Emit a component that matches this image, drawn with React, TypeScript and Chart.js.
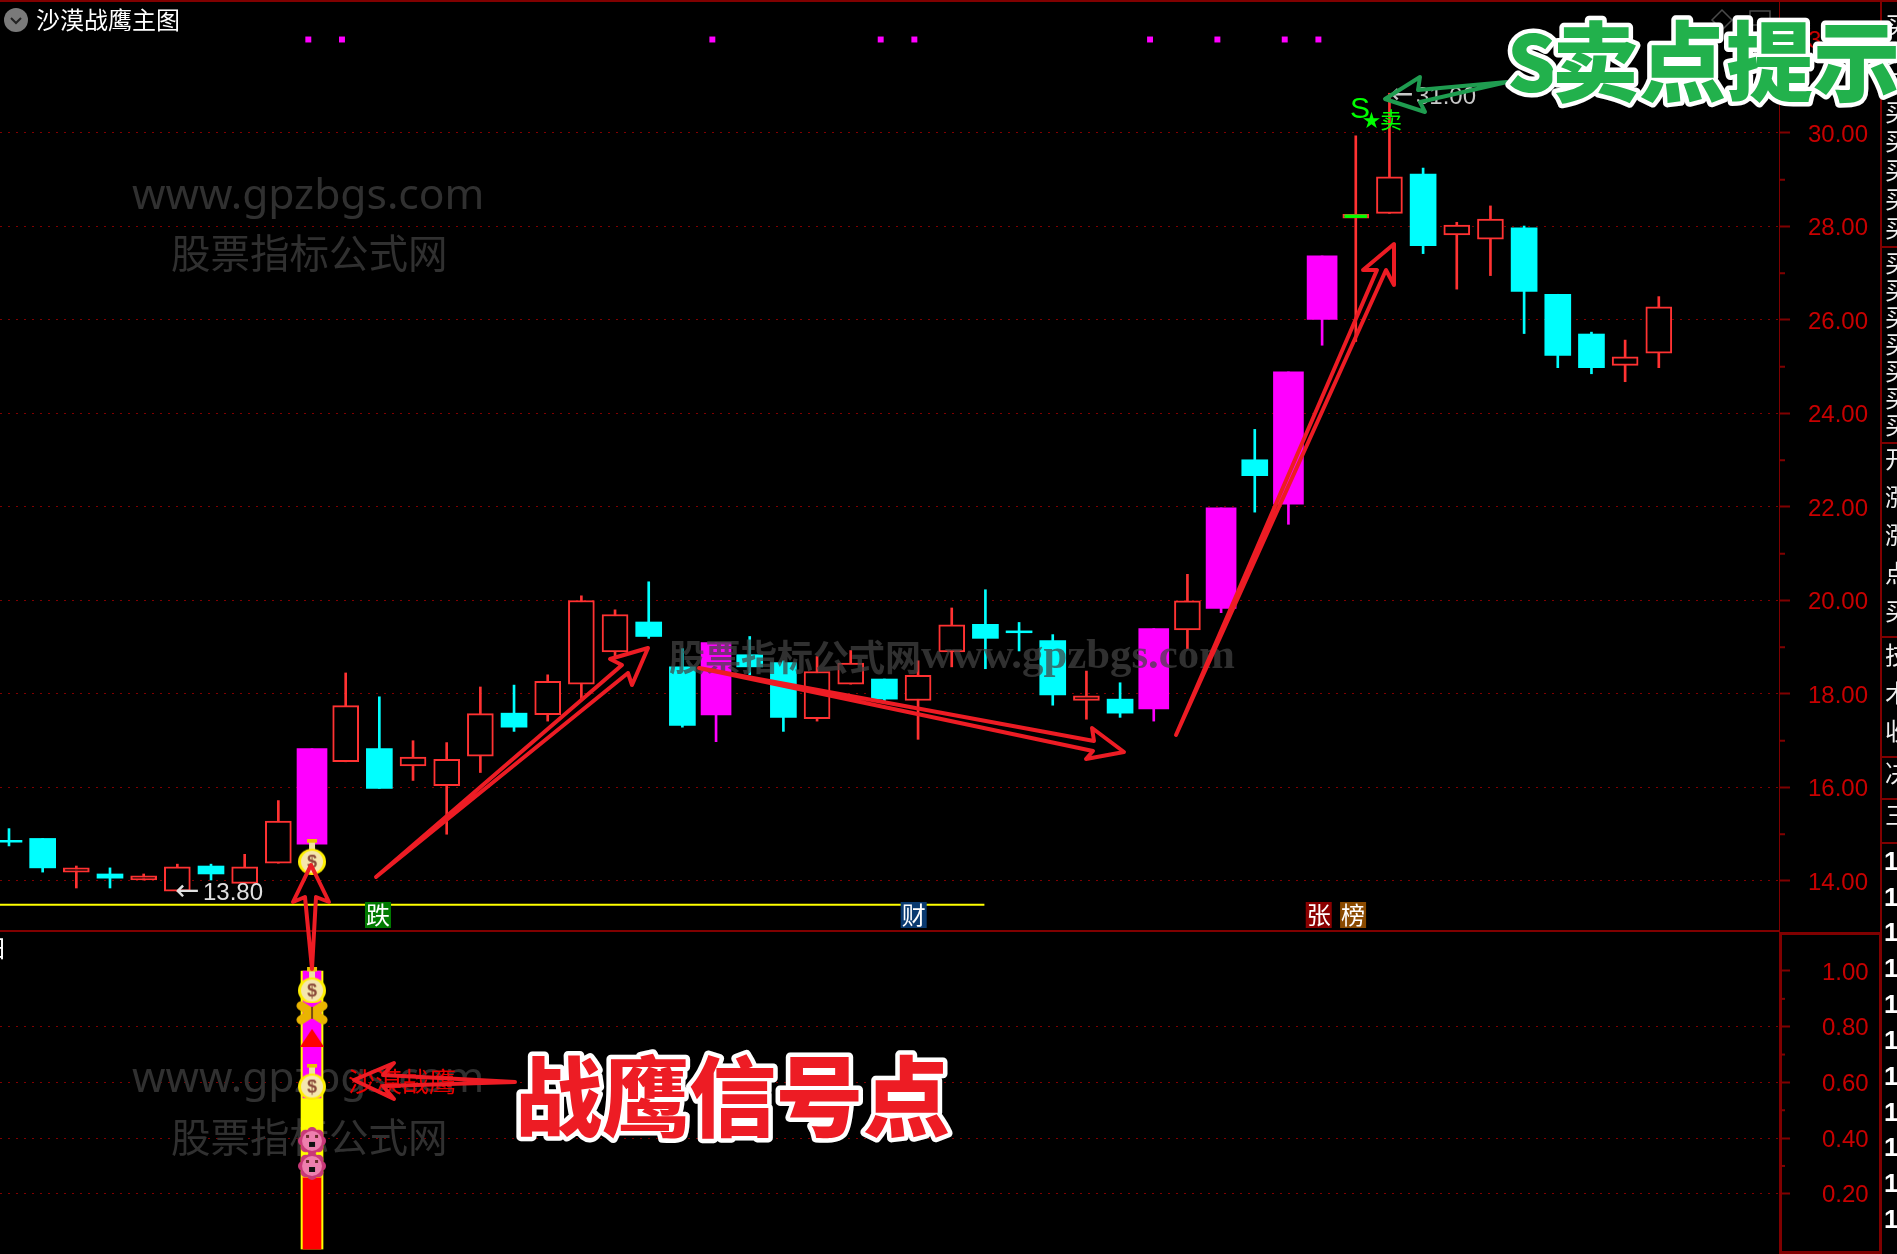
import React, { useEffect, useRef } from "react";
import { Chart, registerables } from "chart.js";

Chart.register(...registerables);

// ---------- data ----------
const candleKind = ["c","c","r","c","r","r","c","r","r","m","r","c","r","r","r","c","r","r","r","c","c","m","c","c","r","r","c","r","r","c","c","c","r","c","m","r","m","c","m","m","r","r","c","r","r","c","c","c","r","r"];
const bodyTop = [14.87,14.91,14.28,14.15,14.11,14.30,14.32,14.30,15.28,16.83,17.75,16.83,16.65,16.60,17.58,17.59,18.27,20.00,19.70,19.54,18.58,19.10,18.84,18.67,18.48,18.66,18.32,18.40,19.48,19.49,19.35,19.14,17.96,17.89,19.40,19.99,21.98,23.01,24.89,27.37,28.26,29.06,29.12,28.03,28.16,27.97,26.55,25.70,25.21,26.28];
const bodyBottom = [14.83,14.28,14.19,14.06,14.02,13.78,14.15,13.95,14.38,14.79,16.55,15.98,16.46,16.04,16.67,17.29,17.56,18.21,18.90,19.23,17.33,17.55,18.58,17.50,17.47,18.21,17.89,17.86,18.90,19.19,19.31,17.98,17.86,17.59,17.68,19.37,19.83,22.67,22.06,26.01,28.18,28.28,27.59,27.82,27.73,26.61,25.24,24.98,25.03,25.29];
const wickHigh = [15.12,14.91,14.32,14.28,14.15,14.36,14.36,14.57,15.72,16.83,18.45,17.94,17.00,16.96,18.15,18.19,18.41,20.10,19.80,20.40,18.97,19.10,19.23,18.71,18.80,18.93,18.32,18.71,19.84,20.23,19.53,19.27,18.49,18.24,19.40,20.56,21.98,23.66,24.89,27.37,29.94,30.85,29.25,28.09,28.44,28.01,26.55,25.74,25.57,26.50];
const wickLow = [14.75,14.19,13.85,13.85,14.02,13.78,14.02,13.95,14.38,14.79,16.55,15.98,16.15,15.00,16.32,17.20,17.42,17.88,18.77,19.19,17.29,16.98,18.41,17.20,17.42,18.21,17.85,17.03,18.58,18.54,18.92,17.76,17.46,17.50,17.42,18.97,19.74,21.89,21.63,25.46,25.54,28.28,27.42,26.66,26.95,25.71,24.98,24.85,24.68,24.98];
const greenDojiIndex = [40];
const greenDojiTop = [28.25];
const greenDojiBottom = [28.19];
const topDotIndex = [8.89,9.89,20.89,25.89,26.89,33.89,35.89,37.89,38.89];
const topDotPrice = 32;
const supportLineIndex = [-0.27, 28.97];
const supportLinePrice = 13.49;
const priceTicks = [14,16,18,20,22,24,26,28,30,32];
const priceMinorTicks = [15,17,19,21,23,25,27,29,31];
const signalTicks = [0.2,0.4,0.6,0.8,1.0];
const signalMinorTicks = [0.3,0.5,0.7,0.9];
const signalBarIndex = [9];
const signalFrame = [[0,1]];
const signalMagenta = [[0.544,1]];
const signalYellow = [[0.26,0.544]];
const signalRed = [[0,0.26]];
const bagPrice = [14.52];
const bagSignal = [0.948,0.603];
const butterflySignal = [0.85];
const triangleSignal = [0.76];
const flowerSignal = [0.39,0.30];
const stripBlocks = [
  { chars: "买买买买买买买买", top: 12, step: 29 },
  { chars: "买买买买买买买", top: 250, step: 27 },
  { chars: "开涨涨点买", top: 446, step: 38 },
  { chars: "技术收", top: 642, step: 38 },
  { chars: "决", top: 760, step: 36 },
  { chars: "三", top: 802, step: 36 },
];
const stripOnes = [863,899,934,970,1006,1042,1078,1114,1149,1185,1221];
const stripSeparators = [246,442,636,756,798,842];

// ---------- palette ----------
const RED = "#ff3232", CYAN = "#00ffff", MAGENTA = "#ff00ff", AXIS = "#800000", LABEL = "#c80000";
const CJK = '"Noto Sans CJK SC"';

type P = [number, number];
const redArrows: P[][] = [
  [[376,877],[622,665],[610,659],[648,648],[632,685],[628,673]],
  [[699,668],[1094,741],[1092,728],[1124,752],[1086,759],[1093,751]],
  [[1176,735],[1377,270],[1363,270],[1394,244],[1394,285],[1386,270]],
  [[312,969],[305,897],[293,902],[311,865],[329,902],[316,897]],
  [[515,1082],[383,1075],[394,1063],[354,1080],[394,1099],[383,1086]],
];
const greenArrow: P[] = [[1507,82],[1418,90],[1420,77],[1385,99],[1425,112],[1420,102]];

function outline(ctx: CanvasRenderingContext2D, pts: P[], color: string) {
  ctx.save();
  ctx.beginPath();
  pts.forEach((p, i) => (i ? ctx.lineTo(p[0], p[1]) : ctx.moveTo(p[0], p[1])));
  ctx.closePath();
  ctx.strokeStyle = color;
  ctx.lineWidth = 4;
  ctx.lineJoin = "round";
  ctx.stroke();
  ctx.restore();
}

function icon(w: number, h: number, draw: (c: CanvasRenderingContext2D) => void) {
  const cv = document.createElement("canvas");
  cv.width = w; cv.height = h;
  draw(cv.getContext("2d") as CanvasRenderingContext2D);
  return cv;
}
const makeBag = () => icon(28, 36, (c) => {
  c.fillStyle = "#e8c400"; c.fillRect(9, 0, 10, 4);
  c.fillStyle = "#f0e0a0"; c.fillRect(11, 4, 6, 7);
  c.fillStyle = "#fff000"; c.beginPath(); c.ellipse(14, 23, 14, 13, 0, 0, 7); c.fill();
  c.fillStyle = "#f5e6ae"; c.beginPath(); c.ellipse(14, 23, 11, 11, 0, 0, 7); c.fill();
  c.fillStyle = "#8a4a3a"; c.font = "bold 18px Liberation Sans"; c.textAlign = "center"; c.textBaseline = "middle"; c.fillText("$", 14, 24);
});
const makeButterfly = () => icon(32, 24, (c) => {
  c.strokeStyle = "#eab400"; c.lineWidth = 9; c.lineCap = "round";
  c.beginPath(); c.moveTo(5, 5); c.lineTo(27, 19); c.moveTo(27, 5); c.lineTo(5, 19); c.stroke();
  c.fillStyle = "#7a4a10"; c.fillRect(15, 6, 2, 12);
});
const makeTriangle = () => icon(24, 18, (c) => {
  c.fillStyle = "#ff0000";
  c.beginPath(); c.moveTo(12, 0); c.lineTo(24, 18); c.lineTo(0, 18); c.closePath(); c.fill();
});
const makeFlower = () => icon(28, 28, (c) => {
  c.fillStyle = "#c93878";
  for (let a = 0; a < 8; a++) { c.beginPath(); c.arc(14 + 9 * Math.cos(a * Math.PI / 4), 14 + 9 * Math.sin(a * Math.PI / 4), 5, 0, 7); c.fill(); }
  c.fillStyle = "#ee7fae"; c.beginPath(); c.arc(14, 14, 10, 0, 7); c.fill();
  c.fillStyle = "#111"; c.fillRect(11, 15, 6, 5);
  c.fillStyle = "#6a2a2a"; c.fillRect(8, 8, 3, 3); c.fillRect(17, 8, 3, 3);
});

function text(ctx: CanvasRenderingContext2D, s: string, x: number, y: number, font: string, color: string, align: CanvasTextAlign = "left") {
  ctx.font = font; ctx.fillStyle = color; ctx.textAlign = align; ctx.textBaseline = "middle";
  ctx.fillText(s, x, y);
}
function banner(ctx: CanvasRenderingContext2D, s: string, x: number, y: number, size: number, fill: string) {
  ctx.font = `900 ${size}px ${CJK}`;
  ctx.textAlign = "left"; ctx.textBaseline = "middle"; ctx.lineJoin = "round";
  ctx.strokeStyle = "#ffffff"; ctx.lineWidth = 9;
  ctx.strokeText(s, x, y);
  ctx.fillStyle = fill;
  ctx.fillText(s, x, y);
}

const backdrop = {
  id: "backdrop",
  beforeDatasetsDraw(chart: any) {
    const c = chart.ctx as CanvasRenderingContext2D;
    const wm = "#303030";
    text(c, "www.gpzbgs.com", 132, 197, '42.6px "Noto Sans"', wm);
    text(c, "股票指标公式网", 171, 253, `39.5px ${CJK}`, wm);
    text(c, "www.gpzbgs.com", 132, 1080, '42.6px "Noto Sans"', wm);
    text(c, "股票指标公式网", 171, 1137, `39.5px ${CJK}`, wm);
  },
};

const overlay = {
  id: "overlay",
  afterDraw(chart: any) {
    const c = chart.ctx as CanvasRenderingContext2D;
    const { y, y2, x } = chart.scales;
    c.save();
    // minor ticks
    c.fillStyle = AXIS;
    priceMinorTicks.forEach((v) => c.fillRect(1779, y.getPixelForValue(v) - 1, 6, 2));
    signalMinorTicks.forEach((v) => c.fillRect(1779, y2.getPixelForValue(v) - 1, 6, 2));
    // frames
    c.fillRect(0, 0, 1897, 2);
    c.fillRect(0, 930, 1780, 2);
    c.fillRect(1880, 0, 2, 1254);
    c.strokeStyle = AXIS; c.lineWidth = 3;
    c.strokeRect(1780.5, 933.5, 100, 319);
    // right strip
    c.fillStyle = AXIS;
    stripSeparators.forEach((s) => c.fillRect(1880, s, 17, 2));
    stripBlocks.forEach((b) => [...b.chars].forEach((ch, i) => text(c, ch, 1885, b.top + i * b.step + 13, `24px ${CJK}`, "#f0f0f0")));
    stripOnes.forEach((s) => text(c, "1", 1884, s, 'bold 26px "Liberation Sans"', "#ffffff"));
    // mid watermark
    text(c, "股票指标公式网", 669, 657, `bold 36px ${CJK}`, "rgba(66,66,66,0.72)");
    text(c, "www.gpzbgs.com", 921, 657, 'bold 42.8px "Liberation Serif"', "rgba(66,66,66,0.72)");
    // header
    c.fillStyle = "#7a7a7a"; c.beginPath(); c.ellipse(16, 20, 12, 12, 0, 0, 7); c.fill();
    c.strokeStyle = "#222"; c.lineWidth = 2; c.beginPath(); c.moveTo(11, 18); c.lineTo(16, 23); c.lineTo(21, 18); c.stroke();
    text(c, "沙漠战鹰主图", 36, 20, `24px ${CJK}`, "#ffffff");
    text(c, "日", -17, 948, `24px ${CJK}`, "#ffffff");
    // price notes
    text(c, "←", 175, 892, '29px "DejaVu Sans"', "#e0e0e0");
    text(c, "13.80", 203, 893, '24px "Liberation Sans"', "#e0e0e0");
    text(c, "←", 1390, 96, '28px "DejaVu Sans"', "#c8c8c8");
    text(c, "31.00", 1416, 97, '24px "Liberation Sans"', "#c8c8c8");
    // S star sell marks
    text(c, "S", 1350, 110, '30px "Liberation Sans Narrow", "Liberation Sans"', "#00ff00");
    text(c, "★", 1371.5, 120, `18px ${CJK}`, "#00ff00", "center");
    text(c, "卖", 1391, 120, `22px ${CJK}`, "#00ff00", "center");
    // tags
    const tags: [string, number, string][] = [["跌", 10.96, "#007a00"], ["财", 26.87, "#0a3a70"], ["张", 38.9, "#8a0000"], ["榜", 39.92, "#8a4a00"]];
    tags.forEach(([t, i, col]) => {
      const px = x.getPixelForValue(i);
      c.fillStyle = col; c.fillRect(px - 13, 902, 26, 26);
      text(c, t, px, 915, `24px ${CJK}`, "#ffffff", "center");
    });
    // faint window buttons
    c.strokeStyle = "#4a4a4a"; c.lineWidth = 1.5;
    c.beginPath(); c.moveTo(1722, 10); c.lineTo(1732, 20); c.lineTo(1722, 30); c.lineTo(1712, 20); c.closePath(); c.stroke();
    c.strokeRect(1750, 11, 20, 14);
    // small red note under the arrow
    text(c, "沙漠战鹰", 348, 1082, `27px ${CJK}`, "#e80000");
    // arrows and callouts
    redArrows.forEach((a) => outline(c, a, "#ed1c24"));
    outline(c, greenArrow, "#1f9c50");
    banner(c, "S", 1507, 62, 78, "#22b14c");
    banner(c, "卖点提示", 1552, 62, 87, "#22b14c");
    banner(c, "战鹰信号点", 515, 1097, 87, "#ed1c24");
    c.restore();
  },
};

const at = (idx: number[], top: number[], bottom: number[]) => idx.map((i, k) => ({ x: i, y: [bottom[k], top[k]] }));
const indexOfKind = (k: string) => candleKind.map((v, i) => (v === k ? i : -1)).filter((i) => i >= 0);
const bodies = (k: string) => { const ids = indexOfKind(k); return ids.map((i) => ({ x: i, y: [bodyBottom[i], bodyTop[i]] })); };
const pts = (xIdx: number, vals: number[]) => vals.map((v) => ({ x: xIdx, y: v }));
const kindColor: Record<string, string> = { r: RED, c: CYAN, m: MAGENTA };

export default function App() {
  const ref = useRef<HTMLCanvasElement | null>(null);
  useEffect(() => {
    if (!ref.current) return;
    const panelAxis = (extra: any, ticks: number[], gridOffAt: number, pad: number) => ({
      type: "linear",
      position: "right",
      stack: "panels",
      ...extra,
      afterBuildTicks: (a: any) => { a.ticks = ticks.map((value) => ({ value })); },
      afterFit: (a: any) => { a.width = 118; a.paddingTop = 0; a.paddingBottom = 0; },
      border: { color: AXIS, width: 1, dash: [2, 6] },
      grid: {
        color: (ctx: any) => (ctx.tick && ctx.tick.value === gridOffAt ? "transparent" : AXIS),
        tickColor: AXIS, tickLength: 11, tickWidth: 2, lineWidth: 1,
      },
      ticks: { color: LABEL, padding: pad, labelOffset: 2, font: { family: "Liberation Sans", size: 24 }, autoSkip: false, callback: (v: number) => Number(v).toFixed(2) },
    });
    const chart = new Chart(ref.current, {
      type: "bar",
      data: {
        datasets: [
          { type: "bar", label: "wicks", order: 6, grouped: false, barThickness: 2, yAxisID: "y",
            data: candleKind.map((_, i) => ({ x: i, y: [wickLow[i], wickHigh[i]] })),
            backgroundColor: candleKind.map((k) => kindColor[k]) },
          { type: "bar", label: "up", order: 5, grouped: false, barThickness: 26, yAxisID: "y", data: bodies("r"),
            backgroundColor: "#000000", borderColor: RED, borderWidth: 2, borderSkipped: false },
          { type: "bar", label: "down", order: 5, grouped: false, barThickness: 26, yAxisID: "y", data: bodies("c"), backgroundColor: CYAN },
          { type: "bar", label: "strong", order: 5, grouped: false, barThickness: 30, yAxisID: "y", data: bodies("m"), backgroundColor: MAGENTA },
          { type: "bar", label: "signal doji", order: 4, grouped: false, barThickness: 22, yAxisID: "y", data: at(greenDojiIndex, greenDojiTop, greenDojiBottom), backgroundColor: "#00ff00" },
          { type: "line", label: "support", order: 4, yAxisID: "y", data: supportLineIndex.map((i) => ({ x: i, y: supportLinePrice })), borderColor: "#ffff00", borderWidth: 2, pointRadius: 0 },
          { type: "scatter", label: "top dots", order: 3, yAxisID: "y", data: topDotIndex.map((i) => ({ x: i, y: topDotPrice })), pointStyle: "rect", pointRadius: 4.2, backgroundColor: MAGENTA, borderWidth: 0 },
          { type: "scatter", label: "bag upper", order: 3, yAxisID: "y", data: pts(signalBarIndex[0], bagPrice), pointStyle: makeBag() },
          { type: "bar", label: "signal frame", order: 5, grouped: false, barThickness: 22, yAxisID: "y2", data: signalBarIndex.map((i, k) => ({ x: i, y: signalFrame[k] })), backgroundColor: "#ffff00" },
          { type: "bar", label: "signal magenta", order: 4, grouped: false, barThickness: 18, yAxisID: "y2", data: signalBarIndex.map((i, k) => ({ x: i, y: signalMagenta[k] })), backgroundColor: MAGENTA },
          { type: "bar", label: "signal yellow", order: 4, grouped: false, barThickness: 18, yAxisID: "y2", data: signalBarIndex.map((i, k) => ({ x: i, y: signalYellow[k] })), backgroundColor: "#ffff00" },
          { type: "bar", label: "signal red", order: 4, grouped: false, barThickness: 18, yAxisID: "y2", data: signalBarIndex.map((i, k) => ({ x: i, y: signalRed[k] })), backgroundColor: "#ff0000" },
          { type: "scatter", label: "bags", order: 3, yAxisID: "y2", data: pts(signalBarIndex[0], bagSignal), pointStyle: makeBag() },
          { type: "scatter", label: "butterfly", order: 2, yAxisID: "y2", data: pts(signalBarIndex[0], butterflySignal), pointStyle: makeButterfly() },
          { type: "scatter", label: "triangle", order: 3, yAxisID: "y2", data: pts(signalBarIndex[0], triangleSignal), pointStyle: makeTriangle() },
          { type: "scatter", label: "flowers", order: 3, yAxisID: "y2", data: pts(signalBarIndex[0], flowerSignal), pointStyle: makeFlower() },
        ] as any,
      },
      options: {
        responsive: false,
        animation: false,
        devicePixelRatio: 1,
        layout: { autoPadding: false, padding: { top: 0, left: 0, right: 0, bottom: 4.5 } },
        plugins: { legend: { display: false }, tooltip: { enabled: false } },
        scales: {
          x: { type: "linear", display: false, offset: false, min: -0.267, max: 52.57, grid: { display: false } },
          y: panelAxis({ min: 12.93, max: 32.845, stackWeight: 931 }, priceTicks, 32, 18),
          y2: panelAxis({ min: 0, max: 1.1436, stackWeight: 318.5 }, signalTicks, 1, 32),
        } as any,
      },
      plugins: [backdrop, overlay],
    } as any);
    return () => chart.destroy();
  }, []);
  return (
    <div style={{ position: "absolute", left: 0, top: 0, width: 1897, height: 1254, background: "#000", overflow: "hidden" }}>
      <canvas ref={ref} width={1897} height={1254} style={{ display: "block" }} />
    </div>
  );
}
